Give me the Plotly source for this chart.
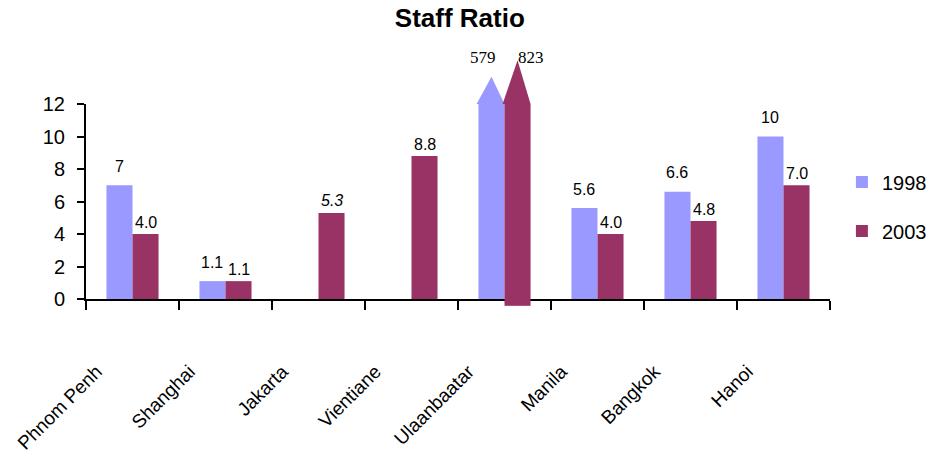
import plotly.graph_objects as go

# Staff ratio by city, two survey years
cities = ["Phnom Penh", "Shanghai", "Jakarta", "Vientiane",
          "Ulaanbaatar", "Manila", "Bangkok", "Hanoi"]
ratio_1998 = [7, 1.1, None, None, 579, 5.6, 6.6, 10]
ratio_2003 = [4.0, 1.1, 5.3, 8.8, 823, 4.0, 4.8, 7.0]
italic_2003 = ["Jakarta"]

Y_MAX = 12
BARGAP = 0.44
COL_1998 = "#9999FF"
COL_2003 = "#993366"
FONT = "Liberation Sans"

half = (1 - BARGAP) / 2   # width of one bar, in category units

fig = go.Figure()
fig.add_trace(go.Bar(
    x=cities, y=ratio_1998, name="1998", legendgroup="a",
    marker=dict(color=COL_1998, line=dict(width=0)),
))
fig.add_trace(go.Bar(
    x=cities, y=ratio_2003, name="2003", legendgroup="b",
    marker=dict(color=COL_2003, line=dict(width=0)),
))

shapes, annotations = [], []

# value labels above the in-range bars
for vals, side, lift, fmt in ((ratio_1998, -1, 19, "{:g}"),
                              (ratio_2003, 1, 12, "{:.1f}")):
    for i, (city, v) in enumerate(zip(cities, vals)):
        if v is None or v > Y_MAX:
            continue
        s = fmt.format(v)
        if side > 0 and city in italic_2003:
            s = f"<i>{s}</i>"
        annotations.append(dict(
            x=i + side * half / 2, xref="x", y=v, yref="y",
            yshift=lift, xanchor="center", yanchor="middle",
            text=s, showarrow=False,
            font=dict(family=FONT, size=16, color="black")))

# off-scale values: arrow heads above the clipped bars, value written on top
for vals, color, side, tip in ((ratio_1998, COL_1998, -1, 1.14),
                               (ratio_2003, COL_2003, 1, 1.225)):
    for i, v in enumerate(vals):
        if v is None or v <= Y_MAX:
            continue
        x0 = i + (-half if side < 0 else 0)
        x1 = x0 + half
        xc = (x0 + x1) / 2
        shapes.append(dict(
            type="path", xref="x", yref="paper", layer="above",
            path=f"M {x0 - 0.02},1 L {xc},{tip} L {x1},1 Z",
            fillcolor=color, line=dict(width=0)))
        if side > 0:
            shapes.append(dict(
                type="rect", xref="x", yref="paper", layer="above",
                x0=x0, x1=x1, y0=-0.035, y1=0.0,
                fillcolor=color, line=dict(width=0)))
        annotations.append(dict(
            x=i - 0.07 if side < 0 else i + 0.12, xref="x",
            y=1.236, yref="paper",
            xanchor="right" if side < 0 else "left", yanchor="middle",
            text=f"{v:g}", showarrow=False,
            font=dict(family="Liberation Serif", size=17, color="black")))

fig.update_layout(
    width=929, height=458,
    margin=dict(l=86, r=99, t=104, b=159, autoexpand=False),
    paper_bgcolor="white", plot_bgcolor="white",
    barmode="group", bargap=BARGAP, bargroupgap=0,
    title=dict(text="<b>Staff Ratio</b>", x=0.495, xanchor="center",
               y=0.96, yanchor="middle",
               font=dict(family=FONT, size=26, color="black")),
    font=dict(family=FONT, color="black"),
    shapes=shapes, annotations=annotations,
    legend=dict(x=1.016, xanchor="left", y=0.7, yanchor="top",
                font=dict(family=FONT, size=20, color="black"),
                traceorder="grouped", tracegroupgap=20,
                itemwidth=30),
    showlegend=True,
)
fig.update_xaxes(
    type="category", tickson="boundaries", ticks="outside", ticklen=9,
    tickwidth=2, tickcolor="black", showline=True, linecolor="black",
    linewidth=2, tickangle=-45, ticklabelstandoff=52, ticklabelshift=-36,
    tickfont=dict(family=FONT, size=19, color="black"), showgrid=False)
fig.update_yaxes(
    range=[0, Y_MAX], tickvals=list(range(0, Y_MAX + 1, 2)),
    ticks="outside", ticklen=7, tickwidth=2, tickcolor="black",
    showline=True, linecolor="black", linewidth=2, showgrid=False,
    zeroline=False, ticklabelstandoff=8,
    tickfont=dict(family=FONT, size=20, color="black"))

fig.write_html("out.html")
